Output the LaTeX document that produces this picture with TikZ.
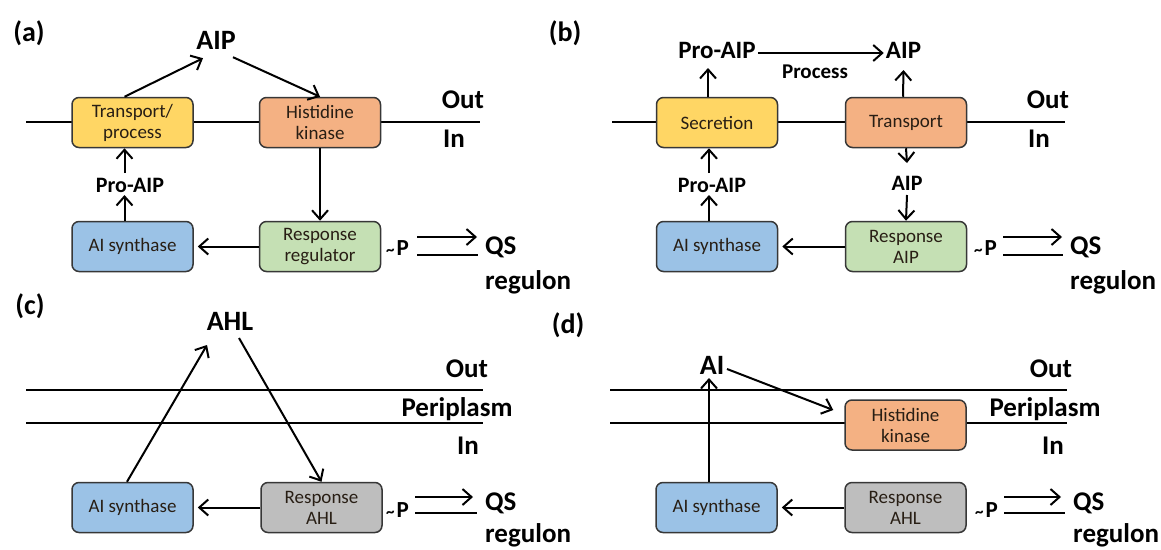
\documentclass[tikz,border=0pt]{standalone}
\usepackage{fontspec}
\setmainfont{Carlito}
\usetikzlibrary{arrows.meta}
\definecolor{cyel}{RGB}{255,214,100}
\definecolor{cora}{RGB}{244,177,131}
\definecolor{cblu}{RGB}{155,194,230}
\definecolor{cgrn}{RGB}{197,224,180}
\definecolor{cgry}{RGB}{190,190,190}
\definecolor{cedge}{RGB}{55,55,55}
\definecolor{ctxt}{RGB}{40,30,20}
\newcommand{\tildeP}{{\fontsize{17}{20}\selectfont\textasciitilde}\kern2pt P}
\begin{document}
\begin{tikzpicture}[x=1pt,y=-1pt,
 box/.style={draw=cedge, line width=1.5pt, rounded corners=7pt, minimum width=121pt, minimum height=50pt, inner sep=0pt, align=center, font=\fontsize{19}{21}\selectfont, text=ctxt},
 lab/.style={inner sep=0pt, anchor=base, font=\fontsize{27}{30}\selectfont\bfseries},
 labw/.style={lab, anchor=base west},
 big/.style={inner sep=0pt, anchor=base, font=\fontsize{28}{30}\selectfont\bfseries},
 mid/.style={inner sep=0pt, anchor=base, font=\fontsize{25}{28}\selectfont\bfseries},
 slab/.style={inner sep=0pt, anchor=base, font=\fontsize{22}{26}\selectfont\bfseries},
 tp/.style={inner sep=0pt, anchor=base east, font=\fontsize{23}{26}\selectfont\bfseries},
 mem/.style={line width=2.5pt},
 arr/.style={line width=2pt, -{Straight Barb[length=9pt,width=16pt]}},
 pln/.style={line width=2pt}]
\fill[white] (0,0) rectangle (1161,549);
\useasboundingbox (0,0) rectangle (1161,549);

% ---------------- (a) ----------------
\draw[mem] (26,122) -- (480,122);
\node[box, fill=cyel] (tpA) at (132.5,122.5) {Transport/\\process};
\node[box, fill=cora] (hkA) at (320,122.5) {Histidine\\kinase};
\node[box, fill=cblu] (synA) at (132.5,246.5) {AI synthase};
\node[box, fill=cgrn] (rrA) at (320,246.5) {Response\\regulator};
\node[big] (la) at (29,41) {(a)};
\node[big] (aipA) at (216,49) {AIP};
\node[lab] (outA) at (463,108) {Out};
\node[labw] (inA) at (443,147) {In};
\node[slab] (proA) at (130,192) {Pro-AIP};
\node[tp] (pA) at (409,255) {\tildeP};
\node[labw] (qsA) at (485,254) {QS};
\node[labw] (regA) at (485,289) {regulon};
\draw[arr] ([xshift=-8pt]tpA.north) -- ([xshift=-13pt,yshift=-9pt]aipA.south);
\draw[arr] ([xshift=17pt,yshift=-8pt]aipA.south) -- (hkA.north);
\draw[arr] ([xshift=-8pt]synA.north) -- ([xshift=-5.5pt,yshift=-3pt]proA.base);
\draw[arr] ([xshift=-5.5pt,yshift=19pt]proA.base) -- ([xshift=-8pt]tpA.south);
\draw[arr] (hkA.south) -- (rrA.north);
\draw[arr] (rrA.west) -- ([xshift=4pt]synA.east);
\draw[arr] ([xshift=8pt,yshift=18pt]pA.base east) -- ([xshift=-8pt,yshift=17pt]qsA.base west);
\draw[pln] ([xshift=8pt]pA.base east) -- ([xshift=-7pt,yshift=-1pt]qsA.base west);

% ---------------- (b) ----------------
\draw[mem] (612,122) -- (1065,122);
\node[box, fill=cyel] (secB) at (717,122.5) {Secretion};
\node[box, fill=cora] (trB) at (906,122.5) {Transport};
\node[box, fill=cblu] (synB) at (717,246.5) {AI synthase};
\node[box, fill=cgrn] (rrB) at (906,246.5) {Response\\AIP};
\node[big] (lb) at (565,41) {(b)};
\node[mid] (proB1) at (717,58) {Pro-AIP};
\node[mid] (aipB1) at (903.5,58) {AIP};
\node[inner sep=0pt, anchor=base, font=\fontsize{21}{24}\selectfont\bfseries] (procB) at (815,78) {Process};
\node[lab] (outB) at (1048,108) {Out};
\node[labw] (inB) at (1028,147) {In};
\node[slab] (proB2) at (712,192) {Pro-AIP};
\node[slab] (aipB2) at (907,190) {AIP};
\node[tp] (pB) at (997,255) {\tildeP};
\node[labw] (qsB) at (1070,254) {QS};
\node[labw] (regB) at (1070,289) {regulon};
\draw[arr] ([xshift=2pt,yshift=5pt]proB1.base east) -- ([xshift=-2pt,yshift=5pt]aipB1.base west);
\draw[arr] ([xshift=-9pt]secB.north) -- ([xshift=-9pt,yshift=-10pt]proB1.base);
\draw[arr] ([xshift=-3pt]trB.north) -- ([yshift=-12pt]aipB1.base);
\draw[arr] ([xshift=-8pt]synB.north) -- ([xshift=-3pt,yshift=-3pt]proB2.base);
\draw[arr] ([xshift=-3pt,yshift=19pt]proB2.base) -- ([xshift=-8pt]secB.south);
\draw[arr] (trB.south) -- ([yshift=27pt]aipB2.base);
\draw[arr] ([yshift=-5pt]aipB2.base) -- (rrB.north);
\draw[arr] (rrB.west) -- ([xshift=4pt]synB.east);
\draw[arr] ([xshift=6pt,yshift=18pt]pB.base east) -- ([xshift=-8pt,yshift=17pt]qsB.base west);
\draw[pln] ([xshift=6pt]pB.base east) -- ([xshift=-7pt,yshift=-1pt]qsB.base west);

% ---------------- (c) ----------------
\draw[mem] (26,390) -- (483,390);
\draw[mem] (26,423) -- (483,423);
\node[box, fill=cblu] (synC) at (132.5,507.5) {AI synthase};
\node[box, fill=cgry] (rrC) at (321.5,507.5) {Response\\AHL};
\node[big] (lc) at (30,314) {(c)};
\node[big] (ahlC) at (230,330) {AHL};
\node[lab] (outC) at (467,377) {Out};
\node[lab] (perC) at (457,416) {Periplasm};
\node[lab] (inC) at (468,454) {In};
\node[tp] (pC) at (409,517) {\tildeP};
\node[labw] (qsC) at (485,510) {QS};
\node[labw] (regC) at (485,542) {regulon};
\draw[arr] ([xshift=-5.5pt]synC.north) -- ([xshift=-23pt,yshift=-15pt]ahlC.base);
\draw[arr] ([xshift=9pt,yshift=-8pt]ahlC.base) -- (rrC.north);
\draw[arr] (rrC.west) -- ([xshift=4pt]synC.east);
\draw[arr] ([xshift=6pt,yshift=20pt]pC.base east) -- ([xshift=-12pt,yshift=13pt]qsC.base west);
\draw[pln] ([xshift=6pt,yshift=4pt]pC.base east) -- ([xshift=-8pt,yshift=-3pt]qsC.base west);

% ---------------- (d) ----------------
\draw[mem] (610,390) -- (1067,390);
\draw[mem] (610,423) -- (1067,423);
\node[box, fill=cora] (hkD) at (905.5,425) {Histidine\\kinase};
\node[box, fill=cblu] (synD) at (716.5,507.5) {AI synthase};
\node[box, fill=cgry] (rrD) at (905.5,507.5) {Response\\AHL};
\node[big] (ld) at (568,333) {(d)};
\node[big] (aiD) at (712,374) {AI};
\node[lab] (outD) at (1051,377) {Out};
\node[lab] (perD) at (1045,416) {Periplasm};
\node[lab] (inD) at (1053,454) {In};
\node[tp] (pD) at (998,517) {\tildeP};
\node[labw] (qsD) at (1073,510) {QS};
\node[labw] (regD) at (1073,542) {regulon};
\draw[arr] ([xshift=-7.5pt]synD.north) -- ([xshift=-3pt,yshift=-4pt]aiD.base);
\draw[arr] ([xshift=15pt,yshift=5pt]aiD.base) -- ([xshift=-11pt,yshift=15pt]hkD.west);
\draw[arr] (rrD.west) -- ([xshift=4pt]synD.east);
\draw[arr] ([xshift=6pt,yshift=20pt]pD.base east) -- ([xshift=-12pt,yshift=13pt]qsD.base west);
\draw[pln] ([xshift=6pt,yshift=4pt]pD.base east) -- ([xshift=-8pt,yshift=-3pt]qsD.base west);
\end{tikzpicture}
\end{document}
